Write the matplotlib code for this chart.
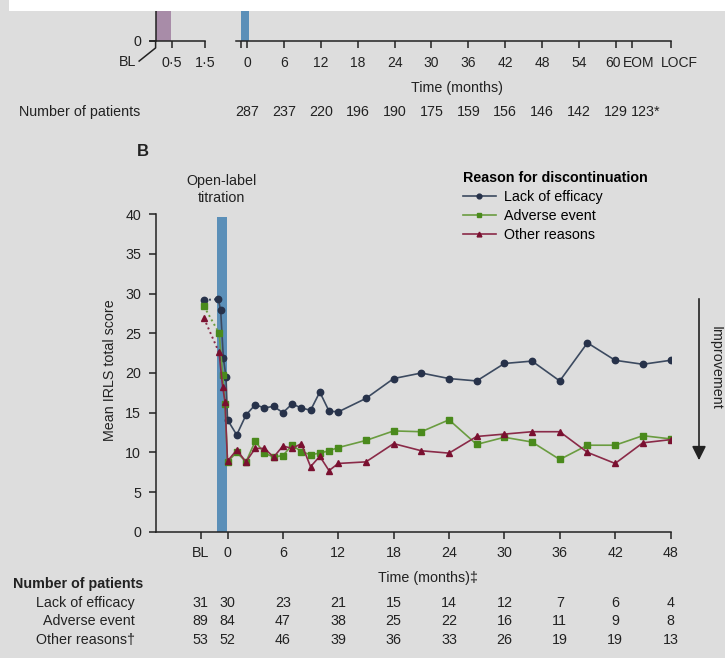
import numpy as np
import matplotlib

matplotlib.use("Agg")
from matplotlib import pyplot as plt
from matplotlib.patches import Rectangle, FancyArrowPatch
from matplotlib.transforms import ScaledTranslation

plt.rcParams['font.family'] = ['Liberation Sans', 'DejaVu Sans']
plt.rcParams['font.size'] = 10.3

W, H = 725, 658
BG = "#dddddd"
INK = "#222222"

# ---- panel A (only its lower strip is visible) ----
a_ticks = [-1.07, 0, 6, 12, 18, 24, 30, 36, 42, 48, 54, 60, 62.7, 69]
a_tick_labels = ["", "0", "6", "12", "18", "24", "30", "36", "42", "48", "54", "60", "EOM", "LOCF"]
a_patients_x = [0, 6, 12, 18, 24, 30, 36, 42, 48, 54, 60, 64.9]
a_patients = ["287", "237", "220", "196", "190", "175", "159", "156", "146", "142", "129", "123*"]

# ---- panel B ----
bl_x = -2.55
months = [0, 1, 2, 3, 4, 5, 6, 7, 8, 9, 10, 11, 12,
          15, 18, 21, 24, 27, 30, 33, 36, 39, 42, 45, 48]

lack_bl = 29.2
lack_tit_x = [-1.0, -0.74, -0.45, -0.16]
lack_tit = [29.3, 27.9, 21.9, 19.5]
lack = [14.1, 12.2, 14.7, 16.0, 15.6, 15.8, 15.0, 16.1, 15.6, 15.3, 17.6, 15.2, 15.1,
        16.8, 19.3, 20.0, 19.3, 19.0, 21.2, 21.5, 19.0, 23.8, 21.6, 21.1, 21.6]

ae_bl = 28.4
ae_tit_x = [-0.9, -0.52, -0.27]
ae_tit = [25.0, 19.8, 16.1]
ae = [8.8, 10.0, 8.8, 11.4, 9.9, 9.4, 9.6, 10.9, 10.1, 9.7, 9.9, 10.2, 10.6,
      11.5, 12.7, 12.6, 14.1, 11.0, 11.9, 11.3, 9.1, 10.9, 10.9, 12.1, 11.7]

oth_bl = 26.9
oth_tit_x = [-0.92, -0.52, -0.27]
oth_tit = [22.6, 18.2, 16.4]
oth = [8.9, 10.3, 8.8, 10.5, 10.5, 9.4, 10.8, 10.5, 11.1, 8.2, 9.5, 7.7, 8.6,
       8.8, 11.1, 10.2, 9.9, 12.0, 12.3, 12.6, 12.6, 10.0, 8.6, 11.2, 11.6]

b_ticks = [-2.9, 0, 6, 12, 18, 24, 30, 36, 42, 48]
b_tick_labels = ["BL", "0", "6", "12", "18", "24", "30", "36", "42", "48"]
n_lack = [31, 30, 23, 21, 15, 14, 12, 7, 6, 4]
n_ae = [89, 84, 47, 38, 25, 22, 16, 11, 9, 8]
n_oth = [53, 52, 46, 39, 36, 33, 26, 19, 19, 13]


def fx(px):
    return px / W


def fy(py):
    return 1 - py / H


fig = plt.figure(figsize=(W / 100, H / 100), dpi=100, facecolor=BG)
fig.patches.append(Rectangle((fx(9), fy(11)), 1, 11 / H, transform=fig.transFigure,
                             facecolor="white", edgecolor="none", zorder=10))

# panel A, baseline segment
axa1 = fig.add_axes([fx(150), fy(41), (205 - 150) / W, 30 / H])
axa1.set_facecolor("none")
axa1.set_xlim(-0.17, 1.5)
axa1.set_ylim(0, 1)
axa1.axvspan(0, 0.47, color="#a88ca8", lw=0)
for s in ["top", "right"]:
    axa1.spines[s].set_visible(False)
axa1.spines["left"].set_position(("data", 0))
axa1.set_xticks([0.5, 1.5], ["0·5", "1·5"])
axa1.set_yticks([0], ["0"])
axa1.tick_params(direction="out", length=5, width=1.1, colors=INK, pad=5.5)
axa1.plot([0, 0, -0.5], [0, -0.23, -0.67], color=INK, lw=1.1, clip_on=False)
axa1.text(-0.86, -0.7, "BL", ha="center", va="center", color=INK)
for s in axa1.spines.values():
    s.set_color(INK)
    s.set_linewidth(1.1)

# panel A, months segment
axa2 = fig.add_axes([fx(235.7), fy(41), (671 - 235.7) / W, 30 / H])
axa2.set_facecolor("none")
axa2.set_xlim(-1.88, 69)
axa2.set_ylim(0, 1)
axa2.axvspan(-1.07, 0.3, color="#5b8fb8", lw=0)
for s in ["top", "right", "left"]:
    axa2.spines[s].set_visible(False)
axa2.spines["bottom"].set_color(INK)
axa2.spines["bottom"].set_linewidth(1.1)
axa2.set_yticks([])
axa2.set_xticks(a_ticks, a_tick_labels)
axa2.tick_params(direction="out", length=5, width=1.1, colors=INK, pad=5.5, labelsize=10)
# nudge the crowded end labels apart, as in the print
labels = axa2.get_xticklabels()
for i, dx in [(11, -0.03), (12, 0.065), (13, 0.08)]:
    labels[i].set_transform(labels[i].get_transform() + ScaledTranslation(dx, 0, fig.dpi_scale_trans))
tr = axa2.get_xaxis_transform()
axa2.text(34.2, -1.57, "Time (months)", transform=tr, ha="center", va="center", color=INK)
for x, n in zip(a_patients_x, a_patients):
    axa2.text(x, -2.36, n, transform=tr, ha="center", va="center", color=INK)
fig.text(fx(19), fy(111.7), "Number of patients", ha="left", va="center", color=INK)

# panel B
ax = fig.add_axes([fx(155.7), fy(531.7), (670.5 - 155.7) / W, (531.7 - 214.3) / H])
ax.set_facecolor("none")
ax.set_xlim(-7.78, 48)
ax.set_ylim(0, 40)
ax.axvspan(-1.17, -0.07, ymax=39.6 / 40, color="#5b8fb8", lw=0, zorder=1)

series = [
    ("Lack of efficacy", lack_bl, lack_tit_x, lack_tit, lack, "#27324a", "#3c4a60", "o", 4.6),
    ("Adverse event", ae_bl, ae_tit_x, ae_tit, ae, "#4a8a1c", "#6a9c40", "s", 4.3),
    ("Other reasons", oth_bl, oth_tit_x, oth_tit, oth, "#7a1030", "#8a2a48", "^", 4.6),
]
handles = []
for name, bl, tx, ty, vals, mc, lc, mk, ms in series:
    ax.plot([bl_x, tx[0]], [bl, ty[0]], ls=(0, (1, 1.6)), color=lc, lw=1.4, zorder=3)
    ax.plot([bl_x], [bl], marker=mk, ms=ms, color=mc, ls="none", zorder=4)
    h, = ax.plot(tx + months, ty + vals, "-", color=lc, lw=1.2, marker=mk, ms=ms,
                 mfc=mc, mec=mc, label=name, zorder=4)
    handles.append(h)

for s in ["top", "right"]:
    ax.spines[s].set_visible(False)
for s in ["left", "bottom"]:
    ax.spines[s].set_color(INK)
    ax.spines[s].set_linewidth(1.1)
ax.set_yticks(np.arange(0, 41, 5))
ax.set_xticks(b_ticks, b_tick_labels)
ax.tick_params(direction="out", length=5, width=1.1, colors=INK, pad=5.5)
ax.set_ylabel("Mean IRLS total score", color=INK)
ax.yaxis.set_label_coords(-0.075, 0.509)

tb = ax.get_xaxis_transform()
ax.text(21.7, -0.146, "Time (months)‡", transform=tb, ha="center", va="center", color=INK)
fig.text(fx(12.7), fy(584), "Number of patients", ha="left", va="center",
         fontweight="bold", color=INK)
rows = [("Lack of efficacy", n_lack, 602.7), ("Adverse event", n_ae, 621),
        ("Other reasons†", n_oth, 640)]
for label, counts, py in rows:
    fig.text(fx(135), fy(py), label, ha="right", va="center", color=INK)
    yy = -(py - 531.7) / (531.7 - 214.3)
    for x, n in zip(b_ticks, counts):
        ax.text(x, yy, str(n), transform=tb, ha="center", va="center", color=INK)

ax.legend(handles=handles, loc="upper left", bbox_to_anchor=(fx(463), fy(171)),
          bbox_transform=fig.transFigure, frameon=False,
          title="Reason for discontinuation",
          title_fontproperties={"weight": "bold", "size": 10.3},
          alignment="left", handlelength=2.3, handletextpad=0.55,
          labelspacing=0.35, borderpad=0, borderaxespad=0, markerscale=0.75)

fig.text(fx(221.7), fy(189.5), "Open-label\ntitration", ha="center", va="center",
         color=INK, linespacing=1.2)
fig.text(fx(137), fy(152), "B", ha="left", va="center", fontweight="bold",
         fontsize=12, color=INK)

fig.patches.append(FancyArrowPatch((fx(699), fy(296)), (fx(699), fy(463)),
                                   transform=fig.transFigure,
                                   arrowstyle="-|>,head_length=0.6,head_width=0.3",
                                   mutation_scale=14, color=INK, lw=1.2))
fig.text(fx(716), fy(367.7), "Improvement", rotation=-90, ha="center", va="center",
         color=INK)

fig.savefig("out.png", dpi=100, facecolor=BG)
